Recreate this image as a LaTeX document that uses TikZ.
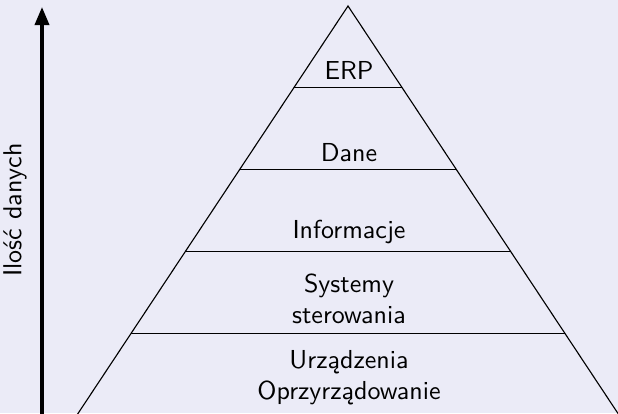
\documentclass[tikz,border=0pt]{standalone}
\usepackage{fontspec}
\usetikzlibrary{arrows.meta,calc}
\definecolor{slidebg}{RGB}{235,235,247}
\tikzset{
  level/.style={draw=black, line width=0.45pt},
  label/.style={font=\sffamily\fontsize{10.4}{12.4}\selectfont, text=black,
                align=center, inner sep=0pt, anchor=base},
  axis/.style={line width=1.4pt, -{Triangle[length=7.2pt,width=5.6pt]}}
}
\begin{document}
\begin{tikzpicture}[x=0.4pt,y=-0.4pt]
  \fill[slidebg] (0,0) rectangle (618,413);
  \useasboundingbox (0,0) rectangle (618,413);

  % pyramid outline
  \coordinate (apex) at (348,6);
  \coordinate (bl) at (77,415);
  \coordinate (br) at (619,415);
  \begin{scope}
    \clip (0,0) rectangle (618,413);
    \draw[level] (bl) -- (apex) -- (br);
  \end{scope}

  % horizontal dividers at fifths of the height
  \foreach \t [count=\i] in {0.2,0.4,0.6,0.8} {
    \coordinate (L\i) at ($(apex)!\t!(bl)$);
    \coordinate (R\i) at ($(apex)!\t!(br)$);
    \draw[level] (L\i) -- (R\i);
  }

  % layer labels (base = baseline of the last line)
  \node[label] (erp)  at (349,79)  {ERP};
  \node[label] (dane) at (349,161) {Dane};
  \node[label] (info) at (349,238) {Informacje};
  \node[label] (sys)  at (349,323) {Systemy\\sterowania};
  \node[label] (dev)  at (349,399) {Urządzenia\\Oprzyrządowanie};

  % data-volume axis
  \coordinate (ax0) at (42,420);
  \coordinate (ax1) at (42,7);
  \draw[axis] (ax0) -- (ax1);
  \node[label, anchor=center, rotate=90] (axlabel) at (15,210) {Ilość danych};
\end{tikzpicture}
\end{document}
